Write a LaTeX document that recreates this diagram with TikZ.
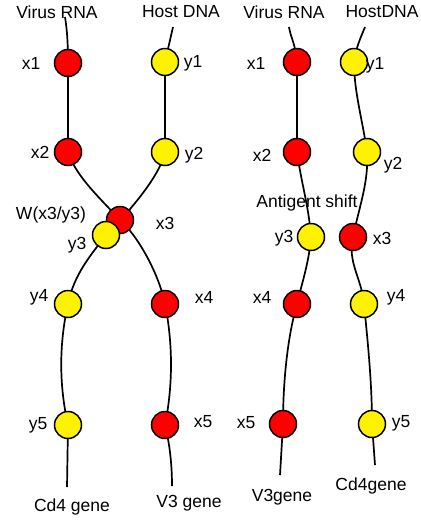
\documentclass[tikz,border=0pt]{standalone}
\usepackage{fontspec}
\setmainfont{Liberation Sans}
\usetikzlibrary{backgrounds}
\tikzset{
    %Define style for the bases
    base/.style={
           circle,
           draw=black, line width=1.5pt,
           minimum size=27pt,
           inner sep=0pt},
    virus/.style={base, fill=red},
    host/.style={base, fill=yellow},
    % Define strand style
    strand/.style={
           line width=1.7pt},
    % Define text style
    lab/.style={
           inner sep=1pt,
           font=\fontsize{17.5}{20}\selectfont}
}
\begin{document}
\begin{tikzpicture}[x=1pt, y=-1pt]
\useasboundingbox (0,0) rectangle (421,523);

% left: before the shift
\node[lab] (lvirus) at (57,12) {Virus RNA};
\node[lab] (lhost) at (181,12) {Host DNA};
\coordinate (lvtop) at (65,17);
\coordinate (lhtop) at (173,27);
\coordinate (lvbot) at (172,486);
\coordinate (lhbot) at (67,487);

\node[virus] (lx1) at (68,63) {};
\node[virus] (lx2) at (68,152) {};
\node[virus] (lx3) at (120,220) {};
\node[virus] (lx4) at (165,304) {};
\node[virus] (lx5) at (165,425) {};
\node[host] (ly1) at (165,62) {};
\node[host] (ly2) at (165,152) {};
\node[host] (ly3) at (106,235) {};
\node[host] (ly4) at (68,304) {};
\node[host] (ly5) at (68,425) {};

\node[lab] at (31,63) {x1};
\node[lab] at (193,63) {y1};
\node[lab] at (40,152) {x2};
\node[lab] at (194,155) {y2};
\node[lab] at (51,215) {W(x3/y3)};
\node[lab] at (165,223) {x3};
\node[lab] at (77,245) {y3};
\node[lab] at (204,297) {x4};
\node[lab] at (39,297) {y4};
\node[lab] at (203,422) {x5};
\node[lab] at (38,425) {y5};
\node[lab] at (72,507) {Cd4 gene};
\node[lab] at (189,503) {V3 gene};

% right: after the shift
\node[lab] (rvirus) at (284,12) {Virus RNA};
\node[lab] (rhost) at (382,12) {HostDNA};
\coordinate (rvtop) at (289,27);
\coordinate (rhtop) at (365,27);
\coordinate (rvbot) at (280,475);
\coordinate (rhbot) at (375,465);

\node[virus] (rx1) at (297,62) {};
\node[virus] (rx2) at (297,152) {};
\node[virus] (rx3) at (353,237) {};
\node[virus] (rx4) at (297,304) {};
\node[virus] (rx5) at (283,424) {};
\node[host] (ry1) at (354,62) {};
\node[host] (ry2) at (367,152) {};
\node[host] (ry3) at (311,237) {};
\node[host] (ry4) at (364,304) {};
\node[host] (ry5) at (372,424) {};

\node[lab] at (256,63) {x1};
\node[lab] at (375,65) {y1};
\node[lab] at (262,155) {x2};
\node[lab] at (393,165) {y2};
\node[lab] (shift) at (307,203) {Antigent shift};
\node[lab] at (284,238) {y3};
\node[lab] at (382,238) {x3};
\node[lab] at (262,297) {x4};
\node[lab] at (396,297) {y4};
\node[lab] at (246,423) {x5};
\node[lab] at (401,423) {y5};
\node[lab] at (282,497) {V3gene};
\node[lab] at (371,486) {Cd4gene};

% strands behind the bases
\begin{pgfonlayer}{background}
\draw[strand] (lvtop) .. controls +(2,12) and +(0,-20) .. (lx1.center)
  -- (lx2.center)
  .. controls +(8,25) and +(-18,-20) .. (lx3.center)
  .. controls +(18,16) and +(-6,-30) .. (lx4.center)
  .. controls +(8,40) and +(8,-40) .. (lx5.center)
  .. controls +(5,20) and +(0,-20) .. (lvbot);
\draw[strand] (lhtop) -- (ly1.center) -- (ly2.center)
  .. controls +(-5,25) and +(20,-20) .. (ly3.center)
  .. controls +(-15,20) and +(6,-30) .. (ly4.center)
  .. controls +(-9,40) and +(-9,-40) .. (ly5.center)
  -- (lhbot);
\draw[strand] (rvtop) .. controls +(2,12) and +(-2,-20) .. (rx1.center)
  -- (rx2.center)
  .. controls +(4,30) and +(-2,-30) .. (ry3.center)
  .. controls +(-2,25) and +(6,-25) .. (rx4.center)
  .. controls +(-10,35) and +(0,-40) .. (rx5.center)
  -- (rvbot);
\draw[strand] (rhtop) .. controls +(-4,10) and +(2,-15) .. (ry1.center)
  .. controls +(0,30) and +(-4,-30) .. (ry2.center)
  .. controls +(2,30) and +(6,-30) .. (rx3.center)
  .. controls +(-6,25) and +(-2,-25) .. (ry4.center)
  .. controls +(4,40) and +(0,-40) .. (ry5.center)
  -- (rhbot);
\end{pgfonlayer}
\end{tikzpicture}
\end{document}
